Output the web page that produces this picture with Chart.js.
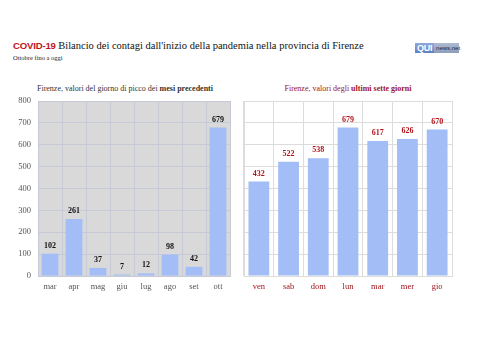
<!DOCTYPE html>
<html><head><meta charset="utf-8">
<script src="https://cdn.jsdelivr.net/npm/chart.js@4.4.0/dist/chart.umd.min.js"></script>
<style>
html,body{margin:0;padding:0;background:#fff;width:487px;height:344px;overflow:hidden;position:relative}
.abs{position:absolute;white-space:nowrap}
#t1{left:13px;top:40px;font-size:10.5px;color:#111;font-family:"Liberation Serif","Times New Roman","DejaVu Serif",serif}
#t1 b{font-family:"Liberation Sans",Arial,sans-serif;color:#c0141c;font-weight:bold;font-size:9.6px;letter-spacing:-0.2px}
#t2{left:13px;top:54px;font-size:6.5px;color:#222;font-family:"Liberation Serif","Times New Roman",serif}
#logo{left:415px;top:43px;height:10px;font-family:"Liberation Sans",sans-serif;display:flex}
#logo .q{background:linear-gradient(#8fa8dc,#5c7fc4);color:#fff;font-weight:bold;font-size:9px;line-height:10px;padding:0 2px;letter-spacing:-0.3px}
#logo .n{background:linear-gradient(#aebbd2,#8e9dba);color:#1c2a4a;font-size:6px;line-height:10px;padding:0 2px;width:21px}
#ct1{left:0;width:250px;top:84px;text-align:center;font-size:8px;color:#333;font-family:"Liberation Serif",serif}
#ct2{left:240px;width:216px;top:84px;text-align:center;font-size:8px;color:#a0141c;font-family:"Liberation Serif",serif}
#c1w{left:0;top:80px;width:240px;height:220px}
#c2w{left:240px;top:80px;width:247px;height:220px}
</style></head>
<body>
<div class="abs" id="t1"><b>COVID-19</b> Bilancio dei contagi dall'inizio della pandemia nella provincia di Firenze</div>
<div class="abs" id="t2">Ottobre fino a oggi</div>
<div class="abs" id="logo"><span class="q">QUI</span><span class="n">news.net</span></div>
<div class="abs" id="ct1">Firenze, valori del giorno di picco dei <b>mesi precedenti</b></div>
<div class="abs" id="ct2">Firenze, valori degli <b>ultimi sette giorni</b></div>
<div class="abs" id="c1w"><canvas id="c1" width="240" height="220"></canvas></div>
<div class="abs" id="c2w"><canvas id="c2" width="247" height="220"></canvas></div>
<script>
const monthLabels = ["mar","apr","mag","giu","lug","ago","set","ott"];
const monthPeaks = [102,261,37,7,12,98,42,679];
const dayLabels = ["ven","sab","dom","lun","mar","mer","gio"];
const dayValues = [432,522,538,679,617,626,670];
const yTicks = [0,100,200,300,400,500,600,700,800];

const SERIF = '"Liberation Serif", serif';
const BAR = '#a3bdf6';

function valueLabels(color){
  return {
    id:'vl',
    afterDatasetsDraw(chart){
      const ctx = chart.ctx;
      const meta = chart.getDatasetMeta(0);
      const data = chart.data.datasets[0].data;
      ctx.save();
      ctx.font = 'bold 8px ' + SERIF;
      ctx.fillStyle = color;
      ctx.textAlign = 'center';
      ctx.textBaseline = 'bottom';
      meta.data.forEach((el,i)=>{ ctx.fillText(String(data[i]), el.x, el.y - 4); });
      ctx.restore();
    }
  };
}
const areaBg = {
  id:'areaBg',
  beforeDraw(chart, args, opts){
    if(!opts.color) return;
    const a = chart.chartArea, ctx = chart.ctx;
    ctx.save(); ctx.fillStyle = opts.color;
    ctx.fillRect(a.left, a.top, a.right-a.left, a.bottom-a.top);
    ctx.restore();
  }
};

function makeChart(id, labels, values, o){
  return new Chart(document.getElementById(id), {
    type:'bar',
    data:{labels, datasets:[{data:values, backgroundColor:BAR, borderWidth:0, categoryPercentage:1, barPercentage:0.7}]},
    options:{
      responsive:false, animation:false, devicePixelRatio:1,
      layout:{padding:{left:0,right:o.padRight,top:21,bottom:0}},
      plugins:{legend:{display:false}, tooltip:{enabled:false}, title:{display:false}, areaBg:{color:o.bg}},
      scales:{
        x:{
          grid:{color:o.gridColor, offset:true, drawTicks:false},
          border:{color:o.axisColor},
          ticks:{font:{family:SERIF,size:8.5}, color:o.xColor, padding:6},
          afterFit(s){ s.height = 24; }
        },
        y:{
          min:0, max:800,
          afterBuildTicks(s){ s.ticks = yTicks.map(v=>({value:v})); },
          grid:{color:o.gridColor, drawTicks:false},
          border:{display:true, color:o.gridColor},
          ticks:{display:o.showY, font:{family:SERIF,size:8.5}, color:'#555', padding:7},
          afterFit(s){ s.width = o.yWidth; }
        }
      }
    },
    plugins:[areaBg, valueLabels(o.labelColor)]
  });
}

makeChart('c1', monthLabels, monthPeaks, {
  padRight:10, bg:'#d9d9d9', gridColor:'#c6cad8', axisColor:'#c6cad8',
  xColor:'#555', showY:true, yWidth:38, labelColor:'#111'
});
makeChart('c2', dayLabels, dayValues, {
  padRight:35, bg:null, gridColor:'#dcdcdc', axisColor:'#dcdcdc',
  xColor:'#a0141c', showY:false, yWidth:4, labelColor:'#b0141c'
});
</script>
</body></html>
